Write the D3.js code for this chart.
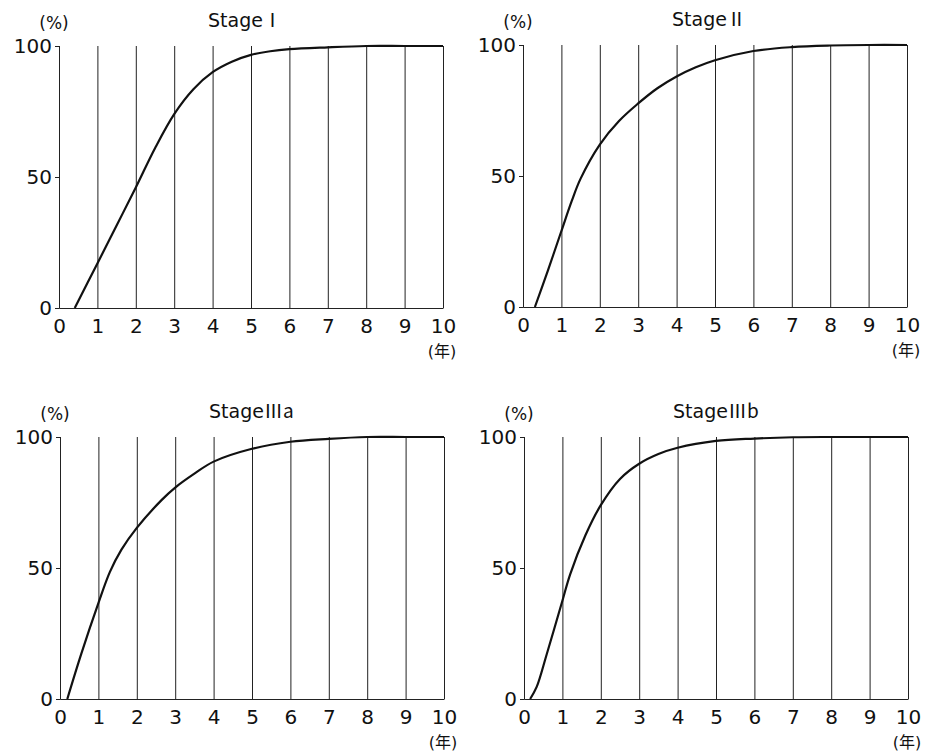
<!DOCTYPE html>
<html>
<head>
<meta charset="utf-8">
<script src="https://cdn.jsdelivr.net/npm/d3@7"></script>
<style>
  body { margin: 0; background: #fff; }
  text { font-family: "DejaVu Sans", "Noto Sans CJK JP", sans-serif; fill: #111; }
</style>
</head>
<body>
<div id="chart"></div>
<script>
const W = 933
const H = 756

// stage names, years and tick labels
const stageNames = ["\u2160", "\u2161", "\u2162a", "\u2162b"]
const years = [0, 1, 2, 3, 4, 5, 6, 7, 8, 9, 10]
const yTicks = [0, 50, 100]

// cumulative recurrence (%): [year, percent]
const stage1 = [[0.41, 0], [1, 17], [1.5, 31.5], [2, 46], [2.5, 61], [3, 74], [3.5, 83.5], [4, 90], [4.5, 94], [5, 96.6], [5.5, 98], [6, 98.8], [7, 99.5], [8, 100], [9, 100], [10, 100]]
const stage2 = [[0.31, 0], [0.65, 14], [1, 29], [1.27, 40.5], [1.5, 49], [2, 62], [2.5, 71], [3, 77.7], [3.5, 83.5], [4, 88], [4.5, 91.5], [5, 94.2], [6, 97.7], [7, 99.2], [8, 99.8], [9, 100], [10, 100]]
const stage3a = [[0.19, 0], [0.56, 17.5], [1, 36.6], [1.3, 48.5], [1.6, 57], [2, 65.3], [2.65, 76], [3, 80.7], [3.5, 86], [4, 90.6], [5, 95.5], [6, 98.2], [7, 99.3], [8, 100], [9, 100], [10, 100]]
const stage3b = [[0.16, 0], [0.33, 4.6], [0.59, 17], [1, 37.5], [1.2, 47.5], [1.6, 62.5], [2, 74], [2.5, 84], [3, 89.8], [3.5, 93.5], [4, 95.9], [5, 98.5], [6, 99.4], [7, 99.9], [8, 100], [9, 100], [10, 100]]

const allCurves = [stage1, stage2, stage3a, stage3b]

// panel boxes (left, top) of each plot area
const panels = [
  { left: 59, top: 46 },
  { left: 523, top: 45 },
  { left: 60, top: 437 },
  { left: 524, top: 437 }
]
const plotW = 384
const plotH = 262

const svg = d3.select("#chart")
    .append("svg")
    .attr("width", W)
    .attr("height", H)

panels.forEach((p, i) => {
  const g = svg.append("g").attr("transform", `translate(${p.left},${p.top})`)

  const x = d3.scaleLinear().domain([0, 10]).range([0, plotW])
  const y = d3.scaleLinear().domain([0, 100]).range([plotH, 0])

  // x axis + vertical grid
  const xAxis = g.append("g")
      .attr("transform", `translate(0,${plotH})`)
      .call(d3.axisBottom(x).tickValues(years).tickSizeInner(-plotH).tickSizeOuter(0).tickPadding(11))
  xAxis.selectAll("line").attr("stroke", "#222")
  xAxis.select(".domain").attr("stroke", "#222")
  xAxis.selectAll("text").style("font-size", "20px").attr("fill", "#111")

  // y axis
  const yAxis = g.append("g")
      .call(d3.axisLeft(y).tickValues(yTicks).tickSize(4).tickPadding(3))
  yAxis.selectAll("line").attr("stroke", "#222")
  yAxis.select(".domain").attr("stroke", "#222")
  yAxis.selectAll("text").style("font-size", "20px").attr("fill", "#111")

  // curve
  const line = d3.line()
      .x(d => x(d[0]))
      .y(d => Math.min(y(d[1]), plotH))
      .curve(d3.curveCatmullRom.alpha(0.5))

  g.append("path")
      .datum(allCurves[i])
      .attr("d", line)
      .attr("fill", "none")
      .attr("stroke", "#111")
      .attr("stroke-width", 2.2)

  // labels
  const title = g.append("text")
      .attr("x", 149)
      .attr("y", -19)
      .style("font-size", "19px")
  title.append("tspan").text("Stage")
  title.append("tspan")
      .style("font-family", "'Noto Sans CJK JP', sans-serif")
      .text(stageNames[i])

  g.append("text")
      .attr("x", -5)
      .attr("y", -17)
      .attr("text-anchor", "middle")
      .style("font-size", "17px")
      .text("(%)")

  g.append("text")
      .attr("x", plotW - 1)
      .attr("y", plotH + 49)
      .attr("text-anchor", "middle")
      .style("font-size", "16px")
      .text("(年)")
})
</script>
</body>
</html>
